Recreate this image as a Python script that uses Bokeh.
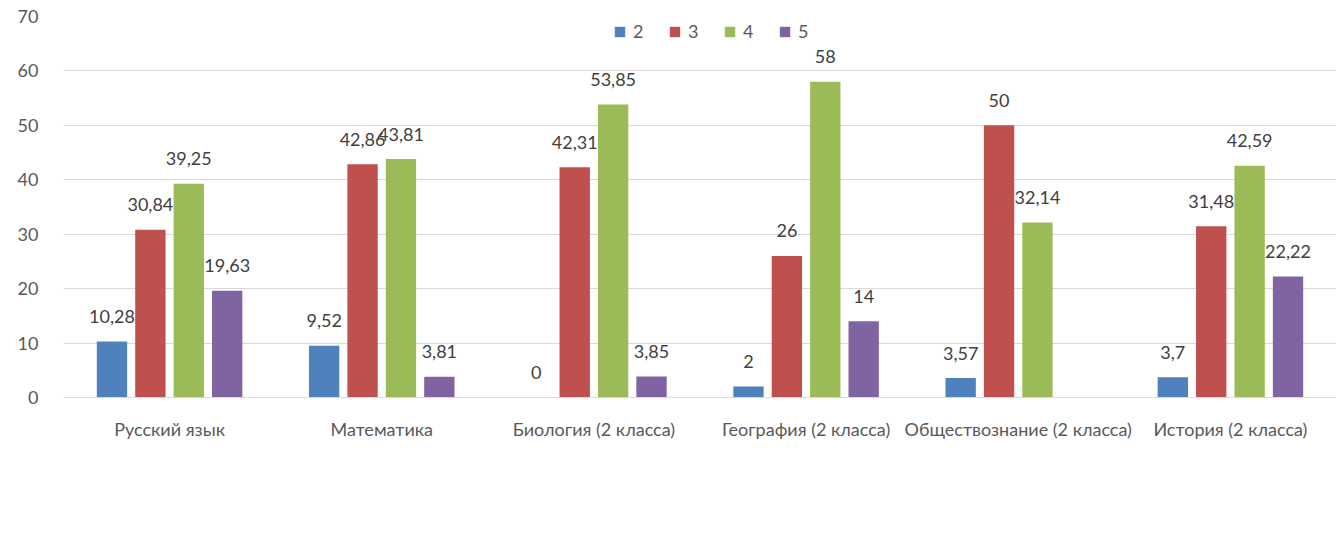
import math
from bokeh.plotting import figure
from bokeh.models import ColumnDataSource, FactorRange, Range1d, Legend, LegendItem, LabelSet
from bokeh.transform import dodge
from bokeh.core.properties import value
from bokeh.embed import file_html
from bokeh.resources import INLINE

categories = ["Русский язык", "Математика", "Биология (2 класса)", "География (2 класса)",
              "Обществознание (2 класса)", "История (2 класса)"]
series_names = ["2", "3", "4", "5"]
grade_2 = [10.28, 9.52, 0, 2, 3.57, 3.7]
grade_3 = [30.84, 42.86, 42.31, 26, 50, 31.48]
grade_4 = [39.25, 43.81, 53.85, 58, 32.14, 42.59]
grade_5 = [19.63, 3.81, 3.85, 14, float("nan"), 22.22]
y_ticks = [0, 10, 20, 30, 40, 50, 60, 70]

colors = ["#4f81bd", "#c0504d", "#9bbb59", "#8064a2"]
offsets = [-0.2715, -0.0905, 0.0905, 0.2715]
FONT = "Lato"

def fmt(v):
    if v is None or (isinstance(v, float) and math.isnan(v)):
        return ""
    s = ("%.2f" % v).rstrip("0").rstrip(".")
    return s.replace(".", ",")

p = figure(x_range=FactorRange(factors=categories), y_range=Range1d(0, 70),
           width=1336, height=523, output_backend="svg", toolbar_location=None,
           min_border_left=63, min_border_right=0, min_border_top=16, min_border_bottom=126)
p.outline_line_color = None

items = []
for name, vals, col, off in zip(series_names, [grade_2, grade_3, grade_4, grade_5], colors, offsets):
    src = ColumnDataSource(dict(cat=categories, val=vals, lab=[fmt(v) for v in vals]))
    r = p.vbar(x=dodge("cat", off, range=p.x_range), top="val", width=0.143, source=src,
               fill_color=col, line_color=None)
    items.append(LegendItem(label=name, renderers=[r]))
    labels = LabelSet(x=dodge("cat", off, range=p.x_range), y="val", text="lab", source=src,
                      text_align="center", text_baseline="middle", y_offset=25,
                      text_font_size="18px", text_color="#404040", text_font=value(FONT))
    p.add_layout(labels)

p.yaxis.ticker = y_ticks
p.yaxis.axis_line_color = None
p.yaxis.major_tick_line_color = None
p.yaxis.minor_tick_line_color = None
p.yaxis.major_label_standoff = 19
p.yaxis.major_label_text_font_size = "18px"
p.yaxis.major_label_text_color = "#595959"
p.yaxis.major_label_text_font = FONT

p.xaxis.axis_line_color = "#d9d9d9"
p.xaxis.major_tick_line_color = None
p.xaxis.minor_tick_line_color = None
p.xaxis.major_label_standoff = 14
p.xaxis.major_label_text_font_size = "18px"
p.xaxis.major_label_text_color = "#595959"
p.xaxis.major_label_text_font = FONT
p.xaxis.major_label_overrides = {"Обществознание (2 класса)": "Обществознание (2\nкласса)"}

p.xgrid.grid_line_color = None
p.ygrid.grid_line_color = "#d9d9d9"
p.ygrid.grid_line_width = 1

legend = Legend(items=items, orientation="horizontal", location=(550, 355),
                glyph_width=13, glyph_height=13, label_height=13, label_standoff=7, spacing=15,
                label_text_font_size="18px", label_text_color="#595959", label_text_font=FONT,
                border_line_color=None, background_fill_alpha=0, padding=0, margin=0)
p.add_layout(legend, "center")

open("out.html", "w").write(file_html(p, INLINE))
